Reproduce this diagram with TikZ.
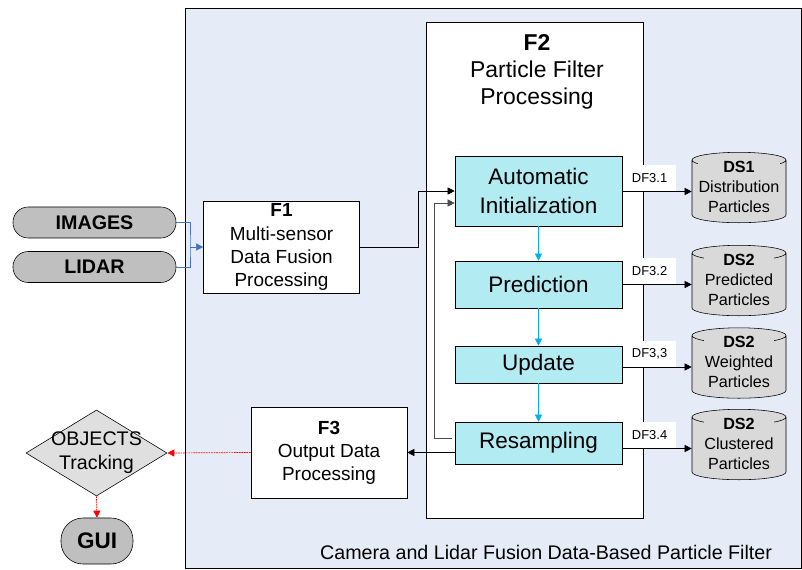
\documentclass[tikz,border=0pt]{standalone}
\usepackage{fontspec}
\setmainfont{Liberation Sans}
\usetikzlibrary{shapes.geometric,arrows.meta,calc}
\definecolor{panelblue}{RGB}{230,236,247}
\definecolor{stagecyan}{RGB}{178,235,242}
\definecolor{storegray}{RGB}{217,217,217}
\definecolor{termgray}{RGB}{191,191,191}
\definecolor{linkblue}{RGB}{68,114,196}
\definecolor{chainblue}{RGB}{0,176,240}

\begin{document}
\begin{tikzpicture}[x=0.025cm,y=-0.025cm,
  tip/.style={-{Triangle[length=5pt,width=5pt]}},
  process/.style={draw,fill=white,align=center,font=\fontsize{13.5}{16.4}\selectfont,minimum width=3.9cm,minimum height=2.3cm,inner sep=0pt},
  stage/.style={draw,fill=stagecyan,align=center,font=\fontsize{16}{20}\selectfont,minimum width=4.175cm,inner sep=0pt},
  store/.style={draw,fill=storegray,cylinder,shape border rotate=90,aspect=0.19,font=\fontsize{11.5}{14.2}\selectfont,minimum width=2.35cm,minimum height=1.76cm,inner sep=0pt},
  storetext/.style={fill=storegray,align=center,font=\fontsize{11.5}{14.2}\selectfont,inner sep=0.5pt},
  terminal/.style={draw,fill=termgray,rounded corners=0.38cm,font=\bfseries\fontsize{14}{16}\selectfont,minimum width=4.075cm,minimum height=0.775cm,inner sep=0pt},
  dflabel/.style={fill=white,font=\fontsize{9.2}{11}\selectfont,minimum width=1.3cm,minimum height=0.65cm,inner sep=0pt,anchor=south west},
  flow/.style={red,dash pattern=on 1.2pt off 0.6pt,line width=0.5pt},
]
    % Bounding box
    \useasboundingbox (0,0) rectangle (802,570);

    % Panels
    \draw[fill=panelblue] (185,8) rectangle (801,568);
    \draw[fill=white] (426,22) rectangle (643,518);
    \node[align=center,font=\fontsize{16.3}{19.2}\selectfont] (f2) at (537,72) {\textbf{F2}\\Particle Filter\\Processing};
    \node[anchor=east,font=\fontsize{14}{16}\selectfont] (caption) at (777,552) {Camera and Lidar Fusion Data-Based Particle Filter};

    % Inputs
    \node[terminal] (img) at (94.5,222.5) {IMAGES};
    \node[terminal] (lid) at (94.5,267) {LIDAR};
    \node[process] (f1) at (281.5,247) {\textbf{F1}\\Multi-sensor\\Data Fusion\\Processing};

    % Particle filter stages
    \node[stage,minimum height=1.75cm] (auto) at (538.5,191) {Automatic\\Initialization};
    \node[stage,minimum height=1.175cm] (pred) at (538.5,284.5) {Prediction};
    \node[stage,minimum height=0.925cm] (upd) at (538.5,364.5) {Update};
    \node[stage,minimum height=1.05cm] (res) at (538.5,443) {Resampling};

    % Data stores
    \foreach \s/\y/\id/\txt/\df/\src in {ds1/191.5/DS1/Distribution/DF3.1/auto, ds2/284.5/DS2/Predicted/DF3.2/pred, ds3/367/DS2/Weighted/{DF3,3}/upd, ds4/448.5/DS2/Clustered/DF3.4/res} {
        \node[store] (\s) at (739,\y) {\phantom{Distribution}};
        \node[storetext] (\s text) at ($(\s.center)+(0,-5)$) {\textbf{\id}\\\txt\\Particles};
        \node[dflabel] (df\s) at ($(\s.west -| \src.east)+(1,0)$) {\df};
        \draw[tip] (\s.west -| \src.east) -- (\s.west);
    }

    % Stage chain
    \foreach \a/\b in {auto/pred, pred/upd, upd/res}
        \draw[tip,chainblue] (\a) -- (\b);

    % Output
    \node[process,minimum height=2.275cm] (f3) at (329,452.5) {\textbf{F3}\\Output Data\\Processing};
    \node[draw,diamond,fill=gray!25,aspect=1.64,minimum width=3.525cm,minimum height=2.15cm,inner sep=0pt,align=center,font=\fontsize{14}{17}\selectfont] (obj) at (96.5,453) {\makebox[0pt]{OBJECTS}\\\makebox[0pt]{Tracking}};
    \node[terminal,minimum width=1.8cm,minimum height=1.15cm,rounded corners=0.55cm,font=\bfseries\fontsize{16}{18}\selectfont] (gui) at (97,541) {GUI};

    % Connectors
    \coordinate (join) at (190,247);
    \draw[linkblue] (img.east) -| (join) |- (lid.east);
    \draw[tip,linkblue] (join) -- (f1.west);
    \draw[tip] (f1.east) -- ++(58,0) |- (auto.west);
    \draw[tip,gray!60!black] ($(res.west)+(-3,-5)$) -- ++(-17,0) |- ($(auto.west)+(0,12)$);
    \draw[tip] (res.west |- f3.east) -- (f3.east);
    \draw[tip,flow] (f3.west) -- (obj.east);
    \draw[tip,flow] (obj.south) -- (gui.north);
\end{tikzpicture}
\end{document}
